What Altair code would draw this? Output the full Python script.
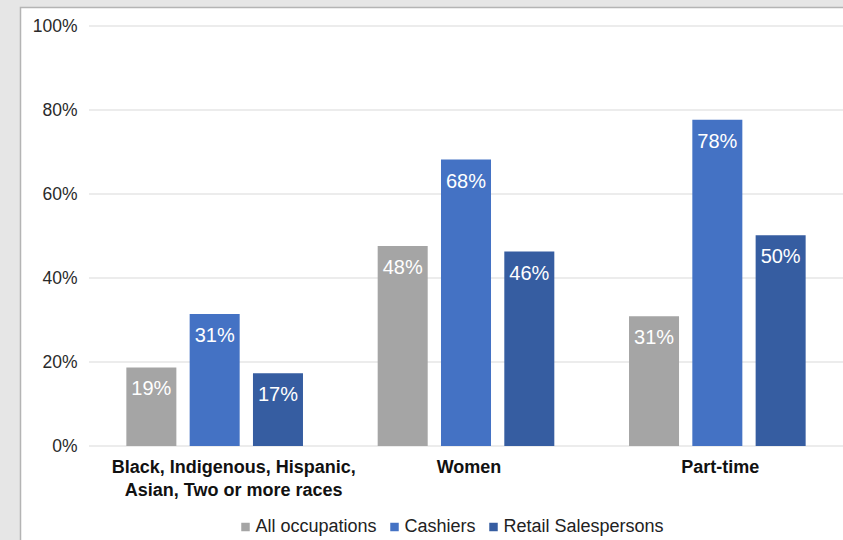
import altair as alt
import pandas as pd

# ---- data ----
categories = ["Black, Indigenous, Hispanic,|Asian, Two or more races", "Women", "Part-time"]
series = ["All occupations", "Cashiers", "Retail Salespersons"]
all_occupations = [0.187, 0.476, 0.309]
cashiers = [0.314, 0.682, 0.777]
retail_salespersons = [0.173, 0.463, 0.502]
colors = ["#a5a5a5", "#4472c4", "#365da1"]
y_ticks = [0, 0.2, 0.4, 0.6, 0.8, 1.0]

rows = []
for s, vals in zip(series, [all_occupations, cashiers, retail_salespersons]):
    for c, v in zip(categories, vals):
        rows.append({"category": c, "series": s, "value": v})
df = pd.DataFrame(rows)
grid_df = pd.DataFrame({"value": y_ticks})

W, H = 754, 420
FONT = "Liberation Sans"

y_axis = alt.Axis(
    title=None, values=y_ticks, format=".0%", labelFont=FONT, labelFontSize=17.5,
    labelColor="#2a2a2a", labelPadding=12, ticks=False, domain=False, grid=False,
    zindex=1,
)

x_enc = alt.X(
    "category:N",
    sort=categories,
    scale=alt.Scale(paddingInner=0, paddingOuter=0),
    axis=alt.Axis(
        title=None, labelExpr="split(datum.label, '|')", labelAngle=0, labelLimit=0,
        labelFont=FONT, labelFontSize=18, labelFontWeight="bold", labelColor="#111111",
        labelLineHeight=23, labelPadding=12, ticks=False, domain=False, grid=False,
        labelOffset=alt.ExprRef("indexof(datum.value, '|') >= 0 ? 19 : 3"),
        zindex=1,
    ),
)
xoff_enc = alt.XOffset("series:N", sort=series,
                       scale=alt.Scale(paddingInner=0.21, paddingOuter=0.59))

frame = alt.Chart(pd.DataFrame({"a": [0]})).mark_rect(
    fill="white", stroke="#b4b4b4", strokeWidth=1.5
).encode(
    x=alt.value(-68.5), x2=alt.value(W + 40), y=alt.value(-18.5), y2=alt.value(H + 150)
)

grid = alt.Chart(grid_df).mark_rule(color="#d9d9d9", strokeWidth=1).encode(
    y=alt.Y("value:Q", scale=alt.Scale(domain=[0, 1]), axis=y_axis),
    x=alt.value(0), x2=alt.value(W),
)

bars = alt.Chart(df).mark_bar().encode(
    x=x_enc,
    xOffset=xoff_enc,
    y=alt.Y("value:Q", axis=y_axis),
    color=alt.Color(
        "series:N", sort=series,
        scale=alt.Scale(domain=series, range=colors),
        legend=alt.Legend(
            title=None, orient="none", direction="horizontal",
            legendX=147.5, legendY=492, symbolType="square", symbolSize=72,
            symbolStrokeWidth=0, labelFont=FONT, labelFontSize=18, labelColor="#222222",
            labelOffset=1, columnPadding=8, padding=0, labelLimit=0,
        ),
    ),
)

labels = alt.Chart(df).mark_text(
    baseline="alphabetic", dy=28, color="white", font=FONT, fontSize=20
).encode(
    x=alt.X("category:N", sort=categories),
    xOffset=alt.XOffset("series:N", sort=series),
    y=alt.Y("value:Q", axis=y_axis),
    text=alt.Text("value:Q", format=".0%"),
)

chart = alt.layer(frame, grid, bars, labels).properties(
    width=W, height=H,
    background="#e6e6e6",
    padding={"left": 89, "top": 26, "right": 0, "bottom": 94},
    autosize=alt.AutoSizeParams(type="none"),
).configure_view(stroke=None)

chart.save("out.html", embed_options={"renderer": "svg", "actions": False})
